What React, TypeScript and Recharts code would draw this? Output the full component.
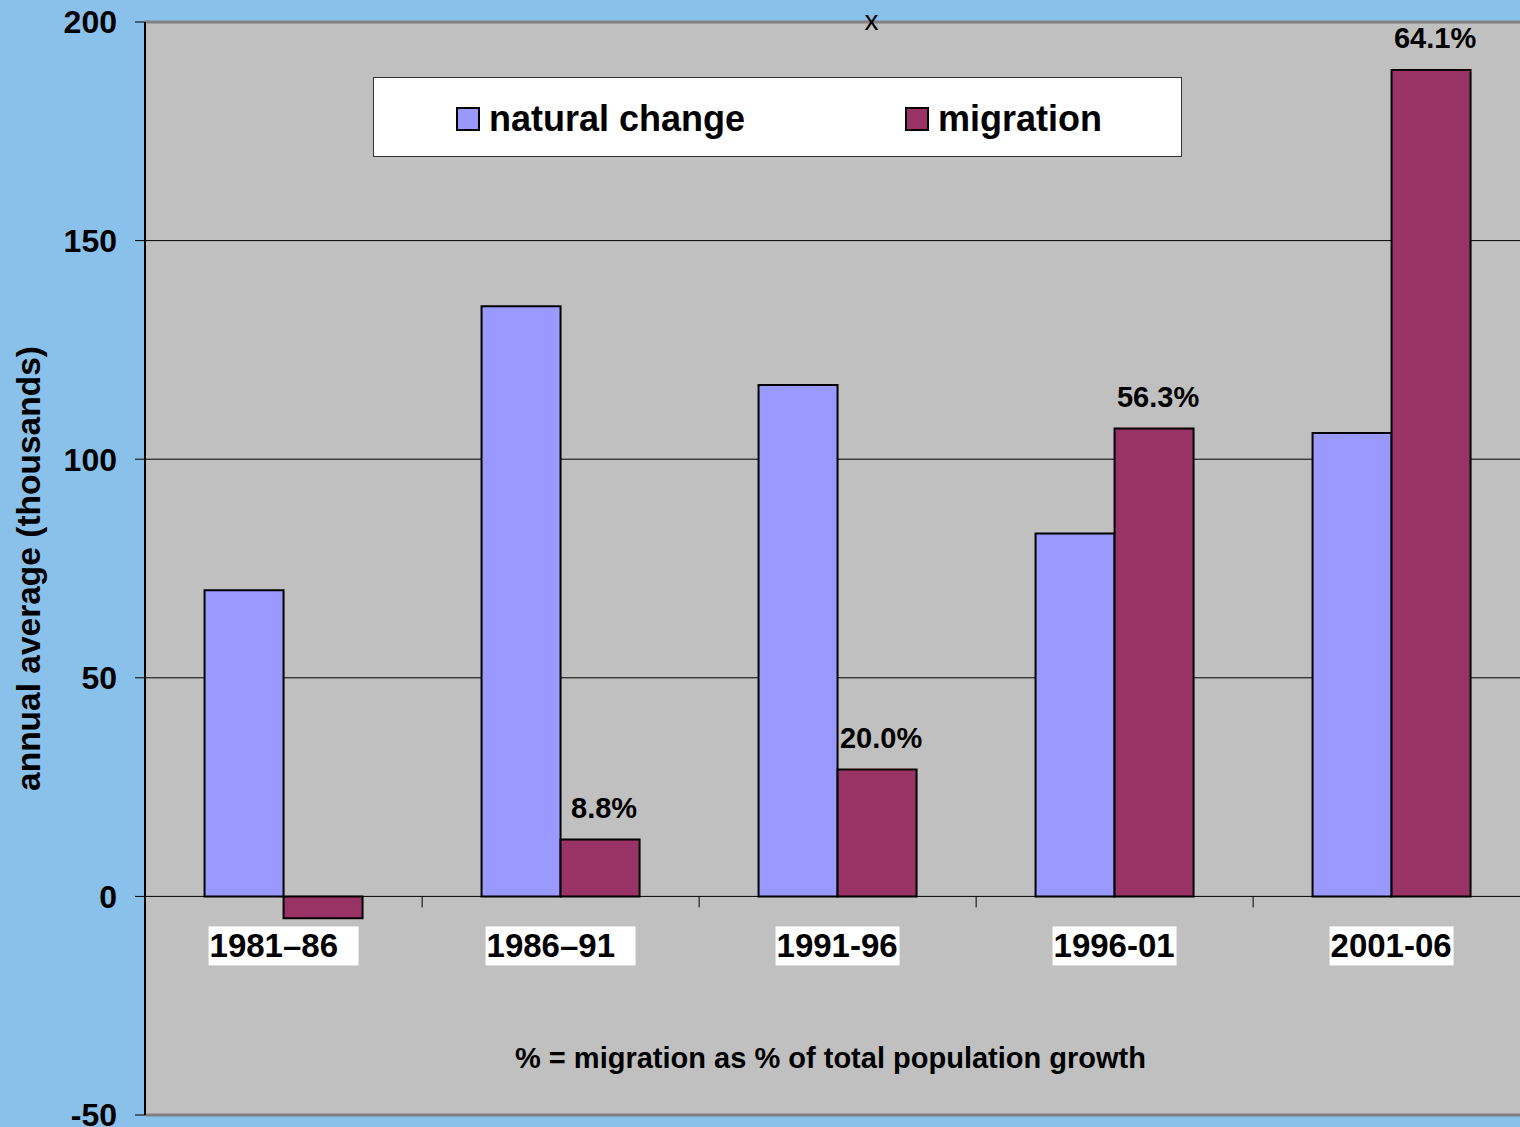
import React from "react";
import { Bar, BarChart, CartesianGrid, LabelList, Legend, ReferenceLine, XAxis, YAxis } from "recharts";

const periods = ["1981–86", "1986–91", "1991-96", "1996-01", "2001-06"];
const naturalChange = [70, 135, 117, 83, 106];
const migration = [-5, 13, 29, 107, 189];
const migrationShare = ["", "8.8%", "20.0%", "56.3%", "64.1%"];
const yTicks = [-50, 0, 50, 100, 150, 200];

const data = periods.map((period, i) => ({
  period,
  natural: naturalChange[i],
  migration: migration[i],
  share: migrationShare[i],
}));

const FONT = '"Liberation Sans", Arial, sans-serif';
const NATURAL = "#9999FF";
const MIGRATION = "#993366";
const GAP_RATIO = 0.215;

// category label boxes + boundary ticks, hung off the natural-change bars
function PeriodLabel(props: any) {
  const { x, y, width, height, value, index } = props;
  const zero = y + height;
  const center = x + width;
  const dashed = String(value).includes("–");
  const boxW = dashed ? 150 : 124;
  const boxX = center - boxW / 2;
  const gap = (width * 2 * GAP_RATIO) / (1 - 2 * GAP_RATIO);
  const boundary = x + 2 * width + gap;
  return (
    <g>
      <rect x={boxX} y={zero + 30} width={boxW} height={39} fill="#fff" />
      <text x={boxX + 1} y={zero + 61} fontSize={33} fontWeight={700} fontFamily={FONT} fill="#000">
        {value}
      </text>
      {index < periods.length - 1 && (
        <line x1={boundary} x2={boundary} y1={zero} y2={zero + 11} stroke="#000" strokeWidth={1} />
      )}
    </g>
  );
}

function LegendBox() {
  const item = (color: string, label: string) => (
    <div style={{ display: "flex", alignItems: "center" }}>
      <span
        style={{
          width: 20,
          height: 20,
          background: color,
          border: "2px solid #000",
          marginRight: 9,
          display: "inline-block",
        }}
      />
      <span style={{ fontSize: 36, fontWeight: 700, fontFamily: FONT, color: "#000" }}>{label}</span>
    </div>
  );
  return (
    <div
      style={{
        width: 809,
        height: 80,
        background: "#fff",
        border: "1px solid #333",
        display: "flex",
        alignItems: "center",
        boxSizing: "border-box",
        paddingLeft: 82,
        paddingTop: 4,
        gap: 160,
      }}
    >
      {item(NATURAL, "natural change")}
      {item(MIGRATION, "migration")}
    </div>
  );
}

export default function App() {
  return (
    <div
      style={{
        position: "absolute",
        left: 0,
        top: 0,
        width: 1520,
        height: 1127,
        overflow: "hidden",
        background: "#8AC1EA",
      }}
    >
      <BarChart
        width={1530}
        height={1127}
        data={data}
        margin={{ top: 22, right: 0, bottom: 12, left: 0 }}
        barCategoryGap="21.5%"
        barGap={0}
      >
        <CartesianGrid vertical={false} stroke="#000" fill="#C0C0C0" fillOpacity={1} />
        <XAxis dataKey="period" height={0} axisLine={false} tickLine={false} tick={false} />
        <YAxis
          domain={[-50, 200]}
          ticks={yTicks}
          interval={0}
          width={145}
          tickSize={10}
          tickMargin={18}
          tick={{ fontSize: 32, fontWeight: 700, fill: "#000", fontFamily: FONT }}
          tickLine={{ stroke: "#000" }}
          axisLine={{ stroke: "#000", strokeWidth: 2 }}
          label={(p: any) => (
            <text
              transform={`translate(${28}, ${p.viewBox.y + p.viewBox.height / 2}) rotate(-90)`}
              textAnchor="middle"
              dominantBaseline="central"
              fontSize={33.5}
              fontWeight={700}
              fontFamily={FONT}
              fill="#000"
            >
              annual average (thousands)
            </text>
          )}
        />
        <ReferenceLine
          y={200}
          stroke="#808080"
          strokeWidth={3}
          label={{ value: "x", position: "center", dx: 34, dy: -2, fontSize: 28, fill: "#000", fontFamily: FONT }}
        />
        <ReferenceLine
          y={-50}
          stroke="#808080"
          strokeWidth={3}
          label={(p: any) => (
            <text
              x={p.viewBox.x + p.viewBox.width / 2 - 7}
              y={p.viewBox.y - 47}
              textAnchor="middle"
              fontSize={30}
              fontWeight={700}
              fontFamily={FONT}
              fill="#000"
              textLength={631}
              lengthAdjust="spacingAndGlyphs"
            >
              % = migration as % of total population growth
            </text>
          )}
        />
        <Legend
          verticalAlign="middle"
          align="center"
          wrapperStyle={{ left: 373, top: 77, width: "auto" }}
          content={() => <LegendBox />}
        />
        <Bar dataKey="natural" name="natural change" fill={NATURAL} stroke="#000" strokeWidth={2} isAnimationActive={false}>
          <LabelList dataKey="period" content={<PeriodLabel />} />
        </Bar>
        <Bar dataKey="migration" name="migration" fill={MIGRATION} stroke="#000" strokeWidth={2} isAnimationActive={false}>
          <LabelList
            dataKey="share"
            position="top"
            offset={22}
            dx={4}
            fontSize={29}
            fontWeight={700}
            fill="#000"
            fontFamily={FONT}
          />
        </Bar>
      </BarChart>
    </div>
  );
}
